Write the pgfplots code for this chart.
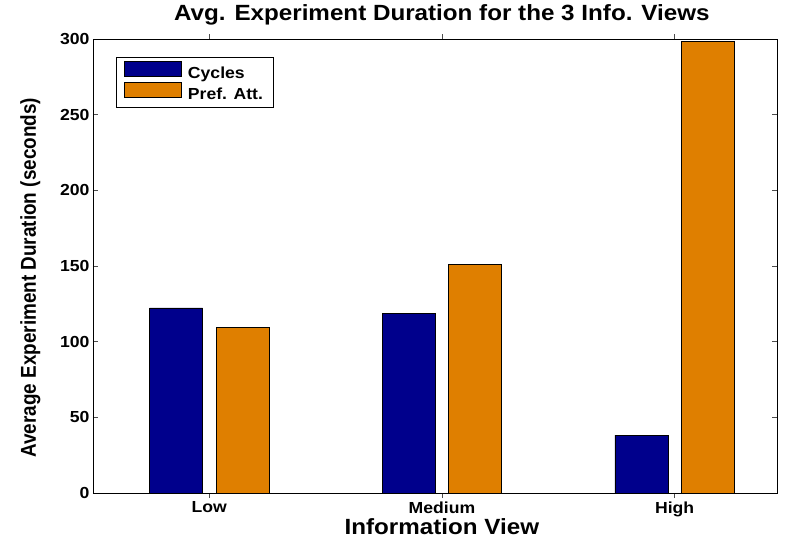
\documentclass[border=0pt]{standalone}
\usepackage{pgfplots}
\pgfplotsset{compat=1.18}
\usepackage{fontspec}
\setmainfont{Liberation Sans}[FakeStretch=1.1]
\newfontfamily\ylabfont{Liberation Sans}[FakeStretch=0.88]
\definecolor{cyc}{RGB}{0,0,140}
\definecolor{pref}{RGB}{223,127,0}

\begin{document}
\begin{tikzpicture}
\begin{axis}[
    scale only axis,
    width=684pt, height=454pt,
    xmin=0.5, xmax=3.44,
    ymin=0, ymax=300,
    xtick={1,2,3},
    xticklabels={Low,Medium,High},
    ytick={0,50,100,150,200,250,300},
    tick align=inside,
    major tick length=5pt,
    ybar, bar width=0.228,
    axis line style={line width=0.8pt},
    tick style={line width=0.6pt, color=black!70},
    ticklabel style={font=\fontsize{16}{19}\selectfont\bfseries},
    /pgf/number format/assume math mode=true,
    title={Avg. Experiment Duration for the 3 Info. Views},
    title style={font=\fontsize{22}{26}\selectfont\bfseries,
        at={([yshift=13pt]axis description cs:0.51,1)}, anchor=base},
    xlabel={Information View},
    xlabel style={font=\fontsize{22}{26}\selectfont\bfseries,
        at={([yshift=-41pt]axis description cs:0.51,0)}, anchor=base},
    ylabel={Average Experiment Duration (seconds)},
    ylabel style={font=\ylabfont\fontsize{21.5}{24}\selectfont\bfseries,
        at={([xshift=-57pt]axis description cs:0,0.474)}, anchor=base},
    legend style={at={(axis description cs:0,1)}, anchor=north west,
        xshift=23pt, yshift=-18pt, draw=black, line width=0.8pt,
        font=\fontsize{16}{19}\selectfont\bfseries,
        inner xsep=8pt, inner ysep=4pt,
        cells={anchor=west}, row sep=0pt,
        /tikz/every odd column/.append style={column sep=4pt}},
    legend image code/.code={\draw[#1] (0pt,-3pt) rectangle (57pt,12pt);},
]
\addplot[fill=cyc, draw=black, line width=0.6pt, bar shift=-0.143]
    coordinates {(1,122.3) (2,118.6) (3,38.2)};
\addplot[fill=pref, draw=black, line width=0.6pt, bar shift=0.143]
    coordinates {(1,109.4) (2,151.3) (3,298.3)};
\legend{Cycles, Pref. Att.}
\end{axis}
\path (-93pt,-46pt) (692pt,493pt);
\end{tikzpicture}
\end{document}
